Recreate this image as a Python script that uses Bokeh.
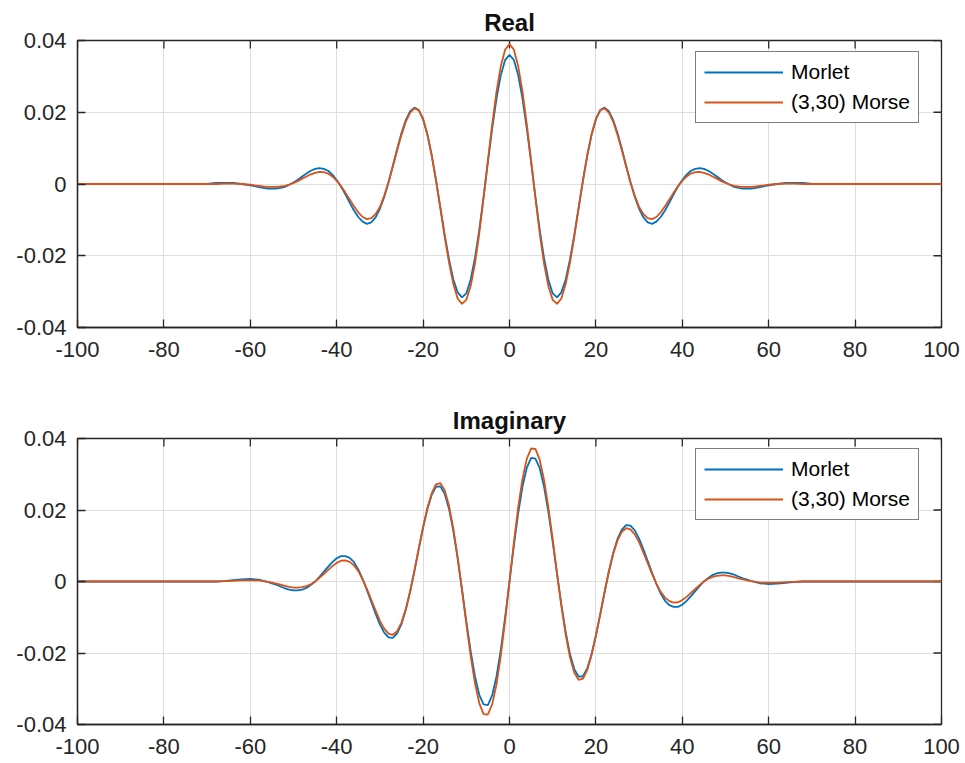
import math
from bokeh.plotting import figure
from bokeh.models import (FixedTicker, CustomJSTickFormatter, Legend,
                          LegendItem, Range1d)
from bokeh.layouts import column
from bokeh.embed import file_html
from bokeh.resources import INLINE

# sample positions
t = [-100, -70, -68, -66, -64, -62] + list(range(-60, 61)) + [62, 64, 66, 68, 70, 100]

# ---- Real part ----
morlet_real = (
    [0, 0, 0.0003, 0.0003, 0.0003, 0.0000]
    + [-.0004, -.0006, -.0009, -.0011, -.0013, -.0013, -.0013, -.0011, -.0008, -.0002,
       .0004, .0012, .0021, .0029, .0037, .0042, .0044, .0042, .0037, .0026,
       .0011, -.0007, -.0029, -.0052, -.0074, -.0092, -.0105, -.0111, -.0107, -.0093,
       -.0069, -.0036, .0005, .0051, .0098, .0142, .0178, .0203, .0213, .0206,
       .0180, .0137, .0079, .0009, -.0066, -.0142, -.0210, -.0266, -.0302, -.0316,
       -.0305, -.0267, -.0207, -.0128, -.0036, .0061, .0155, .0239, .0304, .0346,
       .0360,
       .0346, .0304, .0239, .0155, .0061, -.0036, -.0128, -.0207, -.0267, -.0305,
       -.0316, -.0302, -.0266, -.0210, -.0142, -.0066, .0009, .0079, .0137, .0180,
       .0206, .0213, .0203, .0178, .0142, .0098, .0051, .0005, -.0036, -.0069,
       -.0093, -.0107, -.0111, -.0105, -.0092, -.0074, -.0052, -.0029, -.0007, .0011,
       .0026, .0037, .0042, .0044, .0042, .0037, .0029, .0021, .0012, .0004,
       -.0002, -.0008, -.0011, -.0013, -.0013, -.0013, -.0011, -.0009, -.0006, -.0004]
    + [0.0000, 0.0003, 0.0003, 0.0003, 0, 0]
)

morse_real = (
    [0, 0, 0, 0.0001, 0.0001, 0]
    + [-.0002, -.0004, -.0005, -.0007, -.0008, -.0008, -.0008, -.0007, -.0005, -.0002,
       .0003, .0008, .0015, .0021, .0027, .0031, .0034, .0033, .0029, .0021,
       .0009, -.0006, -.0024, -.0043, -.0062, -.0079, -.0092, -.0098, -.0095, -.0084,
       -.0064, -.0033, .0005, .0049, .0094, .0137, .0174, .0199, .0211, .0206,
       .0182, .0139, .0080, .0010, -.0068, -.0147, -.0219, -.0279, -.0319, -.0334,
       -.0323, -.0285, -.0222, -.0138, -.0039, .0066, .0167, .0258, .0329, .0375,
       .0390,
       .0375, .0329, .0258, .0167, .0066, -.0039, -.0138, -.0222, -.0285, -.0323,
       -.0334, -.0319, -.0279, -.0219, -.0147, -.0068, .0010, .0080, .0139, .0182,
       .0206, .0211, .0199, .0174, .0137, .0094, .0049, .0005, -.0033, -.0064,
       -.0084, -.0095, -.0098, -.0092, -.0079, -.0062, -.0043, -.0024, -.0006, .0009,
       .0021, .0029, .0033, .0034, .0031, .0027, .0021, .0015, .0008, .0003,
       -.0002, -.0005, -.0007, -.0008, -.0008, -.0008, -.0007, -.0005, -.0004, -.0002]
    + [0, 0.0001, 0.0001, 0, 0, 0]
)

# ---- Imaginary part ----
morlet_imag = (
    [0, 0, 0, 0.0001, 0.0004, 0.0006]
    + [.0007, .0006, .0005, .0002, -.0001, -.0005, -.0009, -.0014, -.0019, -.0023,
       -.0025, -.0025, -.0023, -.0018, -.0010, 0, .0013, .0027, .0041, .0054,
       .0065, .0071, .0071, .0066, .0054, .0034, .0007, -.0024, -.0057, -.0090,
       -.0120, -.0143, -.0156, -.0158, -.0145, -.0119, -.0079, -.0028, .0030, .0092,
       .0151, .0203, .0243, .0265, .0266, .0245, .0203, .0141, .0064, -.0022,
       -.0111, -.0194, -.0265, -.0317, -.0344, -.0346, -.0318, -.0265, -.0190, -.0099,
       0,
       .0099, .0190, .0265, .0318, .0346, .0344, .0317, .0265, .0194, .0111,
       .0022, -.0064, -.0141, -.0203, -.0245, -.0266, -.0265, -.0243, -.0203, -.0151,
       -.0092, -.0030, .0028, .0079, .0119, .0145, .0158, .0156, .0143, .0120,
       .0090, .0057, .0024, -.0007, -.0034, -.0054, -.0066, -.0071, -.0071, -.0065,
       -.0054, -.0041, -.0027, -.0013, 0, .0010, .0018, .0023, .0025, .0025,
       .0023, .0019, .0014, .0009, .0005, .0001, -.0002, -.0005, -.0006, -.0007]
    + [-0.0006, -0.0004, -0.0001, 0, 0, 0]
)

morse_imag = (
    [0, 0, 0, 0.0001, 0.0002, 0.0003]
    + [.0003, .0003, .0003, .0001, -.0001, -.0003, -.0006, -.0009, -.0012, -.0015,
       -.0017, -.0017, -.0016, -.0013, -.0008, 0, .0010, .0021, .0032, .0043,
       .0052, .0058, .0059, .0055, .0045, .0029, .0006, -.0021, -.0051, -.0081,
       -.0110, -.0132, -.0146, -.0149, -.0139, -.0115, -.0077, -.0028, .0030, .0092,
       .0152, .0206, .0247, .0272, .0275, .0255, .0212, .0148, .0068, -.0023,
       -.0118, -.0207, -.0284, -.0340, -.0371, -.0372, -.0343, -.0287, -.0206, -.0108,
       0,
       .0108, .0206, .0287, .0343, .0372, .0371, .0340, .0284, .0207, .0118,
       .0023, -.0068, -.0148, -.0212, -.0255, -.0275, -.0272, -.0247, -.0206, -.0152,
       -.0092, -.0030, .0028, .0077, .0115, .0139, .0149, .0146, .0132, .0110,
       .0081, .0051, .0021, -.0006, -.0029, -.0045, -.0055, -.0059, -.0058, -.0052,
       -.0043, -.0032, -.0021, -.0010, 0, .0008, .0013, .0016, .0017, .0017,
       .0015, .0012, .0009, .0006, .0003, .0001, -.0001, -.0003, -.0003, -.0003]
    + [-0.0003, -0.0002, -0.0001, 0, 0, 0]
)

x_ticks = [-100, -80, -60, -40, -20, 0, 20, 40, 60, 80, 100]
y_ticks = [-0.04, -0.02, 0, 0.02, 0.04]
series_labels = ["Morlet", "(3,30) Morse"]
titles = ["Real", "Imaginary"]

BLUE = "#0072BD"
ORANGE = "#D95319"
AXC = "#262626"
FONT = "Liberation Sans"

yfmt_code = "return tick == 0 ? '0' : tick.toFixed(2);"
xfmt_code = "return tick.toFixed(0);"


def style_axis(ax, standoff):
    ax.axis_line_color = AXC
    ax.axis_line_width = 1.3
    ax.major_tick_line_color = AXC
    ax.major_tick_line_width = 1.3
    ax.major_tick_in = 8
    ax.major_tick_out = 0
    ax.minor_tick_line_color = None
    ax.major_label_text_font = FONT
    ax.major_label_text_color = AXC
    ax.major_label_text_font_size = "22px"
    ax.major_label_standoff = standoff


def make(title, yb, yo, height, btop, bbottom):
    p = figure(width=961, height=height,
               x_range=Range1d(-100, 100), y_range=Range1d(-0.04, 0.04),
               output_backend="svg", toolbar_location=None,
               min_border_left=77, min_border_right=20,
               min_border_top=btop, min_border_bottom=bbottom)
    p.title.text = title
    p.title.align = "center"
    p.title.text_font = FONT
    p.title.text_font_size = "24px"
    p.title.text_font_style = "bold"
    p.title.text_color = "#111111"
    p.title.standoff = 9
    p.outline_line_color = AXC
    p.outline_line_width = 1.3
    p.background_fill_color = "white"

    p.xaxis.ticker = FixedTicker(ticks=x_ticks)
    p.yaxis.ticker = FixedTicker(ticks=y_ticks)
    p.xaxis.formatter = CustomJSTickFormatter(code=xfmt_code)
    p.yaxis.formatter = CustomJSTickFormatter(code=yfmt_code)
    style_axis(p.xaxis[0], 14)
    style_axis(p.yaxis[0], 11)

    p.xgrid.ticker = FixedTicker(ticks=x_ticks)
    p.ygrid.ticker = FixedTicker(ticks=y_ticks)
    for g in (p.xgrid[0], p.ygrid[0]):
        g.grid_line_color = "#dedede"
        g.grid_line_width = 1

    # inward tick marks on the top and right edges (box on)
    p.ray(x=x_ticks, y=[y_ticks[-1]] * len(x_ticks), length=8, length_units="screen",
          angle=-math.pi / 2, line_color=AXC, line_width=1.3)
    p.ray(x=[x_ticks[-1]] * len(y_ticks), y=y_ticks, length=8, length_units="screen",
          angle=math.pi, line_color=AXC, line_width=1.3)

    r1 = p.line(t, yb, line_color=BLUE, line_width=1.8)
    r2 = p.line(t, yo, line_color=ORANGE, line_width=1.8)

    leg = Legend(items=[LegendItem(label=series_labels[0], renderers=[r1]),
                        LegendItem(label=series_labels[1], renderers=[r2])],
                 location=(618, 204))
    leg.label_text_font = FONT
    leg.label_text_font_size = "21px"
    leg.label_text_color = "#000000"
    leg.glyph_width = 79
    leg.glyph_height = 22
    leg.label_height = 22
    leg.label_standoff = 8
    leg.padding = 8
    leg.spacing = 6
    leg.margin = 0
    leg.border_line_color = "#000000"
    leg.border_line_width = 1.3
    leg.background_fill_color = "white"
    leg.background_fill_alpha = 1.0
    p.add_layout(leg, "center")
    return p


p1 = make(titles[0], morlet_real, morse_real, 388, 40, 61)
p2 = make(titles[1], morlet_imag, morse_imag, 375, 50, 39)

layout = column(p1, p2)
open("out.html", "w").write(file_html(layout, INLINE))
